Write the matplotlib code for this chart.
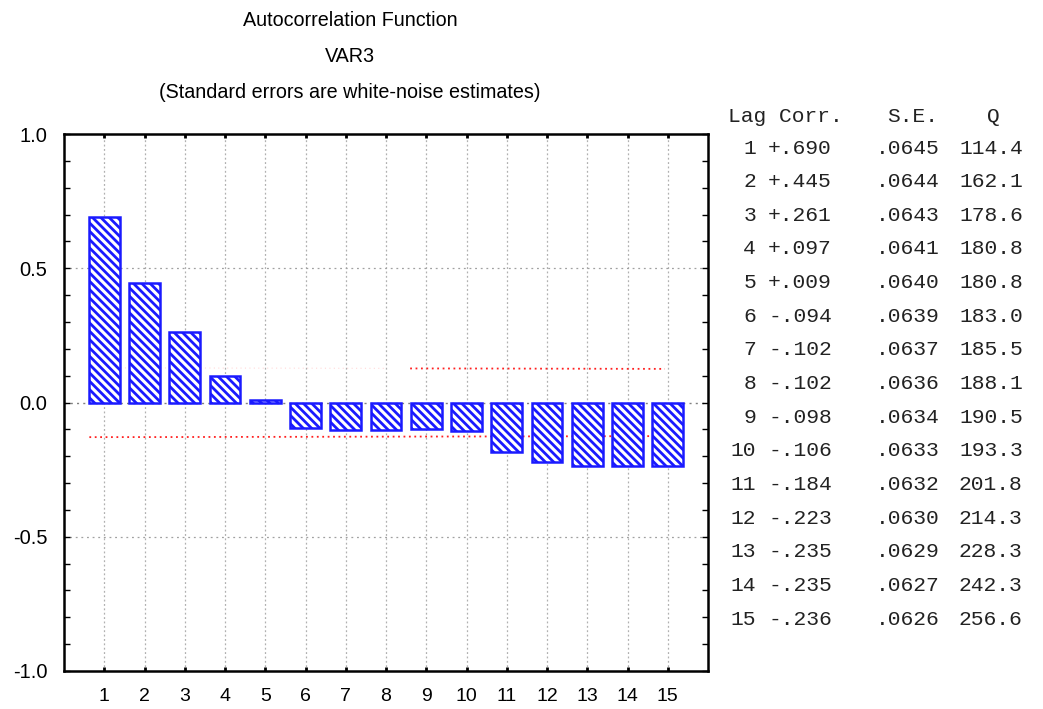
import matplotlib
matplotlib.use("Agg")
import matplotlib.pyplot as plt
from matplotlib.ticker import MultipleLocator

lags = list(range(1, 16))
corr = [0.690, 0.445, 0.261, 0.097, 0.009, -0.094, -0.102, -0.102, -0.098,
        -0.106, -0.184, -0.223, -0.235, -0.235, -0.236]
se = [0.0645, 0.0644, 0.0643, 0.0641, 0.0640, 0.0639, 0.0637, 0.0636, 0.0634,
      0.0633, 0.0632, 0.0630, 0.0629, 0.0627, 0.0626]
q = [114.4, 162.1, 178.6, 180.8, 180.8, 183.0, 185.5, 188.1, 190.5,
     193.3, 201.8, 214.3, 228.3, 242.3, 256.6]
title_lines = ["Autocorrelation Function", "VAR3",
               "(Standard errors are white-noise estimates)"]
y_ticks = [-1.0, -0.5, 0.0, 0.5, 1.0]
y_labels = ["-1.0", "-0.5", "0.0", "0.5", "1.0"]

plt.rcParams['font.family'] = ['Liberation Sans', 'DejaVu Sans']
plt.rcParams['hatch.linewidth'] = 2.0
plt.rcParams['hatch.color'] = '#2a2aff'

fig = plt.figure(figsize=(10.43, 7.09), dpi=100)
ax = fig.add_axes([64/1043, 1-671/709, (708-64)/1043, (671-134)/709])

ax.set_xlim(0, 16)
ax.set_ylim(-1.0, 1.0)

# grid
for x in lags:
    ax.axvline(x, color='#b0b0b0', lw=0.9, ls=(0, (1.5, 2)), zorder=0)
for y in [-0.5, 0.5]:
    ax.axhline(y, color='#a0a0a0', lw=0.9, ls=(0, (1.5, 3)), zorder=0)
ax.axhline(0.0, color='#808080', lw=1.0, ls=(0, (1.5, 3)), zorder=0)

ax.bar(lags, corr, width=0.76, facecolor='white', edgecolor='#1a1aff',
       linewidth=1.8, hatch='\\\\\\\\', zorder=3)

# confidence limits (2 * S.E.), red dotted
lim_x = [0.63] + lags[1:-1] + [14.93]
upper = [2 * s for s in se]
lower = [-2 * s for s in se]
ax.plot(lim_x, lower, color='#ff2020', lw=1.3, ls=(0, (1, 2)), zorder=2)
ax.plot(lim_x[:8], upper[:8], color='#ff9090', lw=0.8, ls=(0, (1, 3)), alpha=0.35, zorder=2)
ax.plot([8.6] + lim_x[8:], [upper[8]] + upper[8:], color='#ff2020', lw=1.3, ls=(0, (1, 2)), zorder=2)

ax.set_xticks(lags)
ax.set_xticklabels([str(l) for l in lags], fontsize=14)
ax.set_yticks(y_ticks)
ax.set_yticklabels(y_labels, fontsize=14.5)
ax.yaxis.set_minor_locator(MultipleLocator(0.1))
ax.tick_params(axis='x', which='major', direction='in', length=3, width=2,
               top=True, bottom=True, pad=12, colors='black')
ax.tick_params(axis='y', which='both', direction='in', length=4, width=1,
               left=True, right=True, pad=12)
for sp in ax.spines.values():
    sp.set_linewidth(1.8)
    sp.set_color('black')

# title
title_y = [20, 56, 93]
for t, yy in zip(title_lines, title_y):
    fig.text(350/1043, 1 - yy/709, t, ha='center', va='center', fontsize=14.2)

# statistics table
mono = ['Liberation Mono', 'DejaVu Sans Mono']
fs = 15.3
def fy(py):
    return 1 - py/709
fig.text(728/1043, fy(117), "Lag Corr.", family=mono, fontsize=fs, ha='left', va='center', color='#222222')
fig.text(887/1043, fy(117), "S.E.", family=mono, fontsize=fs, ha='left', va='center', color='#222222')
fig.text(993/1043, fy(117), "Q", family=mono, fontsize=fs, ha='center', va='center', color='#222222')
for i, (l, c, s, qq) in enumerate(zip(lags, corr, se, q)):
    yy = fy(148 + i * 33.65)
    cs = ("+" if c >= 0 else "-") + ("%.3f" % abs(c))[1:]
    ss = ("%.4f" % s)[1:]
    fig.text(756/1043, yy, str(l), family=mono, fontsize=fs, ha='right', va='center', color='#222222')
    fig.text(768/1043, yy, cs, family=mono, fontsize=fs, ha='left', va='center', color='#222222')
    fig.text(876/1043, yy, ss, family=mono, fontsize=fs, ha='left', va='center', color='#222222')
    fig.text(959/1043, yy, "%.1f" % qq, family=mono, fontsize=fs, ha='left', va='center', color='#222222')

fig.savefig("out.png", dpi=100)
